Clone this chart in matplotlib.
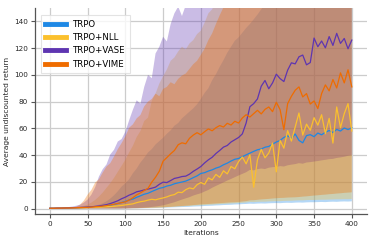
import matplotlib

matplotlib.use("Agg")
import matplotlib.pyplot as plt
import numpy as np

# iterations sampled every 5 steps (0..400)
iterations = np.arange(0, 405, 5)

labels = ["TRPO", "TRPO+NLL", "TRPO+VASE", "TRPO+VIME"]
colors = ["#1e88e5", "#fbc02d", "#5e35b1", "#ef6c00"]

trpo_mean = [
    0.3, 0.3, 0.4, 0.4, 0.5, 0.5, 0.6, 0.7, 0.8, 0.9,
    1.0, 1.1, 1.3, 1.5, 1.8, 2.2, 2.6, 3.2, 3.8, 4.6,
    5.4, 6.5, 7.2, 8.5, 9.6, 10.8, 11.5, 12.8, 14.0, 15.2,
    15.8, 16.9, 17.5, 18.6, 19.3, 19.9, 20.6, 21.8, 23.2, 24.5,
    26.3, 26.9, 28.1, 29.0, 30.3, 31.2, 32.8, 34.0, 35.6, 36.9,
    37.5, 38.8, 40.2, 41.5, 42.8, 44.0, 44.6, 45.9, 46.5, 48.2,
    49.8, 51.0, 53.2, 54.5, 52.3, 55.8, 51.0, 49.2, 54.6, 55.3,
    53.8, 56.5, 55.2, 57.1, 58.4, 56.9, 59.2, 58.0, 60.3, 59.1,
    60.5,
]
nll_mean = [
    0.2, 0.3, 0.3, 0.4, 0.4, 0.5, 0.5, 0.6, 0.6, 0.7,
    0.8, 0.9, 1.0, 1.1, 1.3, 1.4, 1.6, 1.8, 2.1, 2.4,
    2.8, 3.2, 3.6, 4.5, 5.2, 5.6, 6.4, 7.0, 6.6, 7.4,
    8.0, 8.8, 9.9, 10.5, 12.3, 12.0, 14.2, 15.5, 14.8, 17.9,
    19.5, 18.2, 23.0, 21.5, 25.6, 23.4, 28.3, 26.0, 31.5, 29.8,
    35.2, 38.6, 33.5, 40.2, 16.0, 36.5, 44.3, 38.0, 41.6, 49.0,
    27.5, 51.0, 45.2, 58.3, 50.5, 61.0, 71.5, 55.0, 63.2, 58.5,
    68.0, 62.4, 70.2, 56.0, 67.5, 49.0, 76.0, 60.5, 71.0, 78.5,
    58.0,
]
vase_mean = [
    0.3, 0.3, 0.4, 0.4, 0.5, 0.6, 0.7, 0.8, 0.9, 1.0,
    1.2, 1.4, 1.7, 2.0, 2.5, 3.0, 3.8, 4.8, 5.9, 7.4,
    8.6, 10.1, 11.2, 12.6, 13.2, 14.0, 14.6, 15.3, 16.1, 18.2,
    19.8, 19.5, 21.0, 22.6, 23.2, 24.0, 24.3, 25.8, 27.9, 29.6,
    31.5, 34.2, 36.5, 38.4, 41.2, 43.5, 46.0, 47.2, 49.8, 51.5,
    53.2, 55.9, 64.0, 76.2, 78.5, 82.0, 91.5, 95.8, 89.6, 94.0,
    100.5, 97.2, 95.0, 103.5, 109.0, 108.2, 113.5, 114.8, 107.5, 109.2,
    127.5, 121.0, 125.3, 120.2, 128.6, 122.0, 131.0, 123.5, 127.2, 119.5,
    126.0,
]
vime_mean = [
    0.3, 0.3, 0.4, 0.4, 0.5, 0.5, 0.6, 0.7, 0.8, 0.9,
    1.0, 1.2, 1.4, 1.6, 1.9, 2.3, 2.8, 3.3, 3.9, 4.5,
    5.1, 6.4, 8.2, 10.3, 11.8, 13.5, 15.2, 19.8, 23.5, 28.0,
    35.5, 38.2, 41.0, 43.5, 47.8, 49.2, 48.5, 52.6, 55.0, 56.8,
    55.2, 57.5, 59.6, 58.2, 60.5, 62.1, 61.0, 63.8, 62.5, 65.3,
    64.0, 67.8, 70.2, 68.5, 71.0, 73.5, 70.8, 74.2, 76.0, 72.5,
    79.5, 74.0, 59.0, 78.5, 84.0, 88.5, 91.0, 83.5, 86.0, 78.2,
    80.5, 74.8, 86.0, 92.5, 88.0, 96.5, 90.2, 101.5, 94.0, 103.8,
    91.0,
]

# spread bands (upper / lower)
trpo_upper = [
    0.4, 0.4, 0.5, 0.5, 0.6, 0.6, 0.7, 0.7, 0.8, 0.9,
    1.2, 1.6, 2.2, 3.0, 4.0, 5.5, 7.5, 10.0, 13.0, 16.5,
    19.0, 22.0, 26.5, 30.0, 34.5, 38.0, 42.0, 44.5, 48.0, 50.5,
    53.0, 56.0, 58.5, 62.0, 64.0, 67.5, 70.0, 72.5, 75.0, 78.0,
    82.0, 86.5, 90.0, 96.0, 100.5, 106.0, 111.0, 116.5, 121.0, 125.5,
    128.0, 131.5, 135.0, 138.0, 141.5, 145.0, 149.0, 153.0, 156, 159,
    162, 164, 167, 169, 171, 173, 175, 177, 179, 181,
    183, 185, 187, 188, 190, 191, 193, 194, 196, 197,
    198,
]
trpo_lower = [
    0.1, 0.1, 0.1, 0.1, 0.1, 0.1, 0.1, 0.1, 0.1, 0.1,
    0.1, 0.1, 0.1, 0.1, 0.1, 0.1, 0.1, 0.1, 0.1, 0.1,
    0.1, 0.2, 0.2, 0.2, 0.3, 0.3, 0.4, 0.4, 0.5, 0.6,
    0.7, 0.8, 0.9, 1.0, 1.1, 1.2, 1.3, 1.4, 1.6, 1.7,
    1.8, 2.0, 2.1, 2.2, 2.4, 2.5, 2.7, 2.8, 2.9, 3.1,
    3.2, 3.4, 3.5, 3.7, 3.6, 3.8, 3.9, 3.8, 4.0, 4.1,
    4.2, 4.1, 4.3, 4.4, 4.3, 4.5, 4.6, 4.5, 4.7, 4.8,
    4.8, 4.9, 5.0, 4.9, 5.1, 5.2, 5.1, 5.3, 5.4, 5.3,
    5.5,
]
nll_upper = [
    0.4, 0.4, 0.5, 0.5, 0.6, 0.7, 0.8, 1.0, 1.4, 2.0,
    3.0, 4.5, 6.5, 9.0, 12.0, 15.5, 19.0, 23.0, 27.5, 32.0,
    36.5, 42.0, 47.0, 53.5, 58.0, 65.5, 68.0, 80.5, 86.0, 93.5,
    99.0, 104.0, 110.5, 113.0, 117.5, 121.0, 119.0, 123.5, 126.0, 130.5,
    133.0, 139.0, 146.0, 149.0, 155.0, 160.0, 163, 166, 169, 172,
    175, 177, 180, 182, 185, 187, 189, 191, 193, 195,
    197, 199, 201, 203, 205, 206, 208, 210, 211, 213,
    214, 216, 217, 219, 220, 221, 223, 224, 225, 226,
    228,
]
nll_lower = [
    0.1, 0.1, 0.1, 0.1, 0.1, 0.1, 0.1, 0.1, 0.1, 0.1,
    0.1, 0.1, 0.1, 0.1, 0.1, 0.1, 0.1, 0.1, 0.1, 0.2,
    0.2, 0.2, 0.3, 0.3, 0.4, 0.5, 0.5, 0.6, 0.7, 0.8,
    0.9, 1.1, 1.2, 1.4, 1.6, 1.7, 1.9, 2.0, 2.2, 2.4,
    2.5, 2.7, 2.9, 3.0, 3.2, 3.4, 3.5, 3.7, 3.9, 4.0,
    4.2, 4.4, 4.6, 5.0, 4.9, 5.1, 5.2, 5.2, 5.4, 5.5,
    5.6, 5.6, 5.8, 5.9, 5.9, 6.1, 6.2, 6.2, 6.4, 6.5,
    6.5, 6.6, 6.7, 6.7, 6.8, 6.9, 7.0, 7.0, 7.1, 7.1,
    7.2,
]
vase_upper = [
    0.5, 0.5, 0.6, 0.7, 0.9, 1.2, 1.6, 2.2, 3.0, 4.5,
    6.8, 10.5, 16.0, 24.0, 29.5, 33.0, 40.5, 44.0, 50.2, 52.0,
    57.5, 66.0, 74.0, 81.0, 78.5, 91.0, 100.0, 97.5, 116.0, 121.0,
    128.5, 125.0, 138.0, 146.0, 151.0, 144.0, 152.0, 158.0, 162.0, 165.0,
    168, 171, 174, 178, 181, 185, 188, 190, 193, 196,
    198, 201, 203, 205, 208, 210, 212, 214, 216, 218,
    220, 222, 224, 226, 228, 229, 231, 233, 234, 236,
    237, 239, 240, 242, 243, 244, 246, 247, 248, 249,
    250,
]
vase_lower = [
    0.1, 0.1, 0.1, 0.1, 0.1, 0.1, 0.1, 0.1, 0.1, 0.1,
    0.1, 0.1, 0.1, 0.1, 0.1, 0.1, 0.1, 0.1, 0.1, 0.1,
    0.2, 0.3, 0.4, 0.5, 0.6, 0.8, 1.0, 1.3, 1.6, 2.0,
    2.5, 3.2, 4.0, 4.8, 5.8, 6.8, 7.7, 8.6, 9.8, 10.7,
    11.5, 12.8, 14.0, 15.6, 17.0, 18.3, 19.6, 21.0, 22.2, 23.5,
    24.8, 26.0, 27.2, 29.0, 28.6, 29.5, 30.0, 29.6, 30.6, 31.0,
    31.2, 31.8, 31.5, 32.4, 32.9, 33.3, 34.0, 33.6, 34.5, 34.8,
    35.2, 35.6, 36.1, 36.5, 37.0, 37.2, 37.9, 38.3, 38.8, 39.5,
    40.0,
]
vime_upper = [
    0.4, 0.4, 0.5, 0.6, 0.7, 0.8, 0.9, 1.5, 3.0, 6.0,
    10.5, 14.0, 19.5, 22.0, 27.0, 31.5, 34.0, 39.0, 44.5, 49.0,
    54.0, 60.5, 63.0, 67.5, 70.0, 76.5, 80.0, 82.0, 86.0, 84.0,
    89.5, 91.0, 94.5, 93.0, 97.0, 99.5, 101.0, 104.5, 108.0, 110.5,
    115.0, 119.5, 126.0, 131.0, 138.0, 144.5, 150.5, 156, 160, 163,
    166, 169, 171, 174, 176, 178, 180, 182, 184, 186,
    188, 190, 191, 193, 195, 196, 198, 199, 200, 202,
    203, 204, 205, 207, 208, 209, 210, 211, 212, 213,
    214,
]
vime_lower = [
    0.1, 0.1, 0.1, 0.1, 0.1, 0.1, 0.1, 0.1, 0.1, 0.1,
    0.1, 0.1, 0.1, 0.1, 0.1, 0.1, 0.1, 0.1, 0.1, 0.1,
    0.2, 0.2, 0.3, 0.3, 0.4, 0.5, 0.6, 0.7, 0.8, 0.9,
    1.0, 1.2, 1.4, 1.6, 1.8, 2.0, 2.2, 2.4, 2.7, 2.9,
    3.2, 3.4, 3.5, 3.7, 3.9, 4.1, 4.3, 4.5, 4.7, 4.8,
    5.0, 5.3, 5.6, 6.2, 6.3, 6.6, 6.9, 7.1, 7.3, 7.6,
    7.8, 8.0, 8.1, 8.3, 8.4, 8.5, 8.7, 9.0, 9.2, 9.5,
    9.8, 10.0, 10.3, 10.5, 10.8, 11.0, 11.3, 11.5, 11.8, 12.0,
    12.2,
]

means = [trpo_mean, nll_mean, vase_mean, vime_mean]
uppers = [trpo_upper, nll_upper, vase_upper, vime_upper]
lowers = [trpo_lower, nll_lower, vase_lower, vime_lower]

plt.rcParams["font.family"] = "DejaVu Sans"
fig = plt.figure(figsize=(3.74, 2.41), dpi=100)
ax = fig.add_axes([0.093, 0.112, 0.888, 0.855])

for lo, hi, c in zip(lowers, uppers, colors):
    ax.fill_between(iterations, lo, hi, color=c, alpha=0.33, linewidth=0)

for m, c, lab in zip(means, colors, labels):
    ax.plot(iterations, m, color=c, linewidth=0.9, label=lab)

ax.set_xlim(-20, 420)
ax.set_ylim(-4, 150)
ax.set_xticks(np.arange(0, 401, 50))
ax.set_yticks(np.arange(0, 141, 20))
ax.grid(True, color="#cccccc", linewidth=0.9)
ax.set_axisbelow(True)
for side in ["top", "right"]:
    ax.spines[side].set_visible(False)
for side in ["left", "bottom"]:
    ax.spines[side].set_color("#555555")
    ax.spines[side].set_linewidth(0.9)
ax.tick_params(labelsize=5.2, length=3, width=0.8, color="#555555",
               labelcolor="#262626", pad=2)
ax.set_xlabel("Iterations", fontsize=5.4, color="#262626", labelpad=2)
ax.set_ylabel("Average undiscounted return", fontsize=5.4, color="#262626", labelpad=3)

leg = ax.legend(loc="upper left", fontsize=6.2, frameon=True, handlelength=2.4,
                handleheight=0.6, borderpad=0.5, labelspacing=0.5,
                bbox_to_anchor=(0.005, 0.985), fancybox=False)
leg.get_frame().set_edgecolor("#dddddd")
leg.get_frame().set_linewidth(0.8)
for h in leg.get_lines():
    h.set_linewidth(3.5)

fig.savefig("out.png", dpi=100)
